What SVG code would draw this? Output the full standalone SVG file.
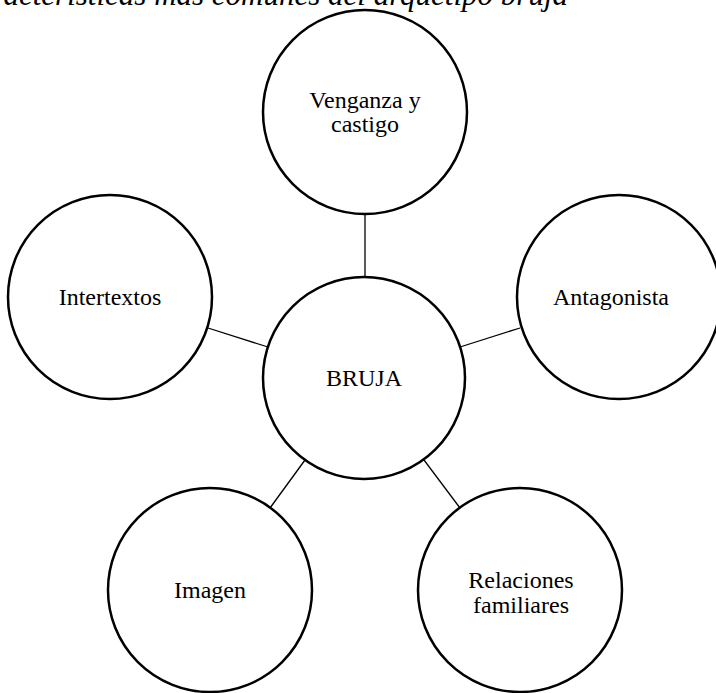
<svg xmlns="http://www.w3.org/2000/svg" width="716" height="693" viewBox="0 0 716 693">
<style>
.n{fill:#fff;stroke:#000;stroke-width:2.5}
.c{stroke:#000;stroke-width:1.3;fill:none}
.t{font-family:"Liberation Serif","Times New Roman",serif;font-size:24px;fill:#000;text-anchor:middle}
.title{font-family:"Liberation Serif","Times New Roman",serif;font-size:31px;font-style:italic;fill:#000;text-anchor:end}
</style>
<rect width="716" height="693" fill="#fff"/>
<text class="title" x="568" y="5">Características más comunes del arquetipo bruja</text>
<g id="connectors">
<line class="c" x1="365" y1="214" x2="365" y2="277"/>
<line class="c" x1="208" y1="328" x2="268" y2="347"/>
<line class="c" x1="460" y1="347" x2="520" y2="328"/>
<line class="c" x1="305" y1="460" x2="270" y2="508"/>
<line class="c" x1="424" y1="460" x2="460" y2="508"/>
</g>
<g id="venganza">
<circle class="n" cx="365" cy="112" r="102"/>
<text class="t" x="365" y="108">Venganza y</text>
<text class="t" x="365" y="132">castigo</text>
</g>
<g id="intertextos">
<circle class="n" cx="110" cy="297" r="102"/>
<text class="t" x="110" y="305">Intertextos</text>
</g>
<g id="antagonista">
<circle class="n" cx="619" cy="297" r="102"/>
<text class="t" x="611" y="305">Antagonista</text>
</g>
<g id="bruja">
<circle class="n" cx="364" cy="378" r="101"/>
<text class="t" x="364" y="386">BRUJA</text>
</g>
<g id="imagen">
<circle class="n" cx="210" cy="590" r="102"/>
<text class="t" x="210" y="598">Imagen</text>
</g>
<g id="relaciones">
<circle class="n" cx="520" cy="590" r="102"/>
<text class="t" x="521" y="588">Relaciones</text>
<text class="t" x="521" y="613">familiares</text>
</g>
</svg>
